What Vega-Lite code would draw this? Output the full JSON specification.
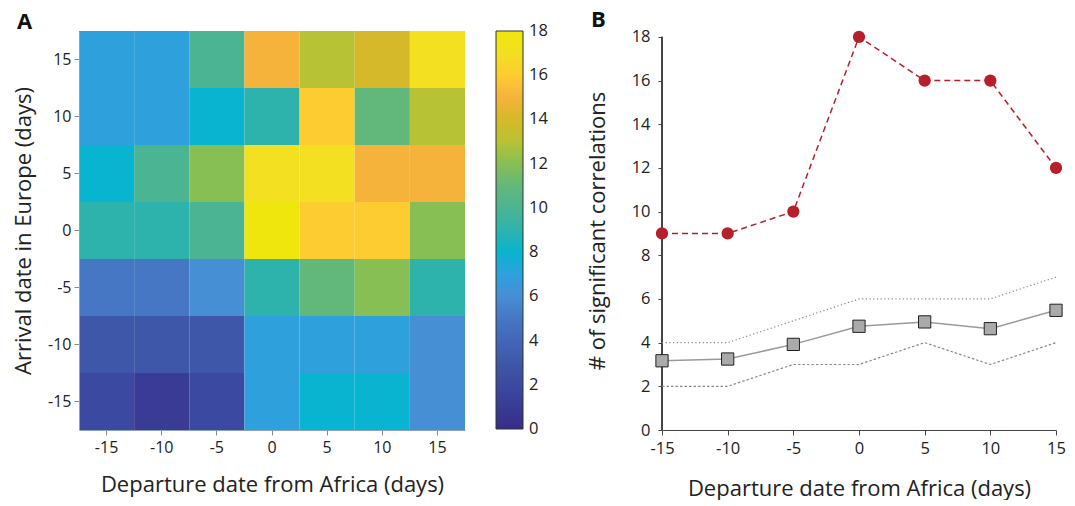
{
  "$schema": "https://vega.github.io/schema/vega-lite/v6.json",
  "padding": {"left": 12, "top": 8, "right": 5, "bottom": 0},
  "background": "white",
  "spacing": 38,
  "resolve": {"scale": {"color": "independent"}, "legend": {"color": "independent"}},
  "config": {
    "font": "Open Sans",
    "view": {"stroke": null},
    "axis": {"labelFont": "Open Sans", "titleFont": "Open Sans", "labelFontSize": 16, "titleFontSize": 22, "titleFontWeight": "normal", "labelColor": "#222", "titleColor": "#222", "grid": false}
  },
  "datasets": {
    "heat": [
      {"dep": -15, "arr": 15, "n": 7}, {"dep": -10, "arr": 15, "n": 7}, {"dep": -5, "arr": 15, "n": 10}, {"dep": 0, "arr": 15, "n": 15}, {"dep": 5, "arr": 15, "n": 13}, {"dep": 10, "arr": 15, "n": 14}, {"dep": 15, "arr": 15, "n": 17},
      {"dep": -15, "arr": 10, "n": 7}, {"dep": -10, "arr": 10, "n": 7}, {"dep": -5, "arr": 10, "n": 8}, {"dep": 0, "arr": 10, "n": 9}, {"dep": 5, "arr": 10, "n": 16}, {"dep": 10, "arr": 10, "n": 11}, {"dep": 15, "arr": 10, "n": 13},
      {"dep": -15, "arr": 5, "n": 8}, {"dep": -10, "arr": 5, "n": 10}, {"dep": -5, "arr": 5, "n": 12}, {"dep": 0, "arr": 5, "n": 17}, {"dep": 5, "arr": 5, "n": 17}, {"dep": 10, "arr": 5, "n": 15}, {"dep": 15, "arr": 5, "n": 15},
      {"dep": -15, "arr": 0, "n": 9}, {"dep": -10, "arr": 0, "n": 9}, {"dep": -5, "arr": 0, "n": 10}, {"dep": 0, "arr": 0, "n": 18}, {"dep": 5, "arr": 0, "n": 16}, {"dep": 10, "arr": 0, "n": 16}, {"dep": 15, "arr": 0, "n": 12},
      {"dep": -15, "arr": -5, "n": 5}, {"dep": -10, "arr": -5, "n": 5}, {"dep": -5, "arr": -5, "n": 6}, {"dep": 0, "arr": -5, "n": 9}, {"dep": 5, "arr": -5, "n": 11}, {"dep": 10, "arr": -5, "n": 12}, {"dep": 15, "arr": -5, "n": 9},
      {"dep": -15, "arr": -10, "n": 3}, {"dep": -10, "arr": -10, "n": 3}, {"dep": -5, "arr": -10, "n": 3}, {"dep": 0, "arr": -10, "n": 7}, {"dep": 5, "arr": -10, "n": 7}, {"dep": 10, "arr": -10, "n": 7}, {"dep": 15, "arr": -10, "n": 6},
      {"dep": -15, "arr": -15, "n": 2}, {"dep": -10, "arr": -15, "n": 1}, {"dep": -5, "arr": -15, "n": 2}, {"dep": 0, "arr": -15, "n": 7}, {"dep": 5, "arr": -15, "n": 8}, {"dep": 10, "arr": -15, "n": 8}, {"dep": 15, "arr": -15, "n": 6}
    ],
    "lines": [
      {"dep": -15, "obs": 9, "med": 3.17, "lo": 2, "hi": 4},
      {"dep": -10, "obs": 9, "med": 3.25, "lo": 2, "hi": 4},
      {"dep": -5, "obs": 10, "med": 3.92, "lo": 3, "hi": 5},
      {"dep": 0, "obs": 18, "med": 4.75, "lo": 3, "hi": 6},
      {"dep": 5, "obs": 16, "med": 4.95, "lo": 4, "hi": 6},
      {"dep": 10, "obs": 16, "med": 4.64, "lo": 3, "hi": 6},
      {"dep": 15, "obs": 12, "med": 5.48, "lo": 4, "hi": 7}
    ]
  },
  "hconcat": [
    {
      "title": {"text": "A", "anchor": "start", "frame": "group", "fontSize": 22, "fontWeight": "bold", "font": "Open Sans", "dx": -62, "offset": -3, "color": "#111"},
      "width": 386,
      "height": 399,
      "data": {"name": "heat"},
      "mark": {"type": "rect"},
      "encoding": {
        "x": {"field": "dep", "type": "ordinal", "sort": "ascending",
          "scale": {"paddingInner": 0, "paddingOuter": 0},
          "axis": {"title": "Departure date from Africa (days)", "labelAngle": 0, "titlePadding": 19, "domainColor": "#8fa0c8", "tickColor": "#888", "tickSize": 5, "labelPadding": 4}},
        "y": {"field": "arr", "type": "ordinal", "sort": "descending",
          "scale": {"paddingInner": 0, "paddingOuter": 0},
          "axis": {"title": "Arrival date in Europe (days)", "titlePadding": 12, "domainColor": "#8fa0c8", "tickColor": "#888", "tickSize": 5, "labelPadding": 3}},
        "color": {"field": "n", "type": "quantitative",
          "scale": {"type": "linear", "domain": [0, 2, 3, 4, 5, 6, 7, 8, 9, 10, 11, 12, 13, 14, 15, 16, 17, 18],
            "range": ["#372c8a", "#3b4aa0", "#3f57a8", "#4266b8", "#4577c4", "#468fd5", "#2ea1dd", "#08b4cf", "#2eb3ac", "#4bb593", "#62b87a", "#87bf55", "#b7c234", "#d6b92a", "#f5b33c", "#fdcc30", "#f2e021", "#efe60e"]},
          "legend": {"title": null, "direction": "vertical", "orient": "right", "offset": 31, "gradientLength": 398, "gradientThickness": 27, "gradientStrokeColor": "#333", "gradientStrokeWidth": 1, "values": [0, 2, 4, 6, 8, 10, 12, 14, 16, 18], "labelFontSize": 16.5, "labelFont": "Open Sans", "labelColor": "#222", "labelOffset": 6, "labelOverlap": false,
            "encode": {"labels": {"update": {"baseline": {"value": "middle"}}}}}}
      }
    },
    {
      "title": {"text": "B", "anchor": "start", "frame": "group", "fontSize": 22, "fontWeight": "bold", "font": "Open Sans", "dx": -71, "offset": -3, "color": "#111"},
      "width": 394,
      "height": 399,
      "data": {"name": "lines"},
      "encoding": {
        "x": {"field": "dep", "type": "quantitative",
          "scale": {"domain": [-15, 15], "nice": false},
          "axis": {"title": "Departure date from Africa (days)", "values": [-15, -10, -5, 0, 5, 10, 15], "labelExpr": "toString(datum.value)", "titlePadding": 22, "domainColor": "#444", "tickColor": "#444", "tickSize": 5, "labelPadding": 5, "labelFontSize": 16.5, "labelFlush": false}}
      },
      "layer": [
        {"mark": {"type": "rule", "color": "#444", "strokeWidth": 1},
          "encoding": {"x": {"datum": -15}, "y": {"datum": 0}, "y2": {"datum": 18}}},
        {"mark": {"type": "line", "color": "#888", "strokeWidth": 1.2, "strokeDash": [1.2, 2.5]},
          "encoding": {"y": {"field": "hi", "type": "quantitative",
            "scale": {"domain": [0, 18.27], "nice": false},
            "axis": {"title": "# of significant correlations", "values": [0, 2, 4, 6, 8, 10, 12, 14, 16, 18], "titlePadding": 22, "domain": false, "tickColor": "#444", "tickSize": 4, "labelPadding": 8, "labelFontSize": 16.5}}}},
        {"mark": {"type": "line", "color": "#888", "strokeWidth": 1.2, "strokeDash": [2.5, 2]},
          "encoding": {"y": {"field": "lo", "type": "quantitative"}}},
        {"mark": {"type": "line", "color": "#999", "strokeWidth": 1.5},
          "encoding": {"y": {"field": "med", "type": "quantitative"}}},
        {"mark": {"type": "point", "shape": "square", "filled": true, "fill": "#aaaaaa", "stroke": "#222", "strokeWidth": 1, "size": 150, "opacity": 1},
          "encoding": {"y": {"field": "med", "type": "quantitative"}}},
        {"mark": {"type": "line", "color": "#b5202a", "strokeWidth": 1.5, "strokeDash": [6, 4]},
          "encoding": {"y": {"field": "obs", "type": "quantitative"}}},
        {"mark": {"type": "point", "shape": "circle", "filled": true, "color": "#b5202a", "size": 150, "opacity": 1},
          "encoding": {"y": {"field": "obs", "type": "quantitative"}}}
      ]
    }
  ]
}
